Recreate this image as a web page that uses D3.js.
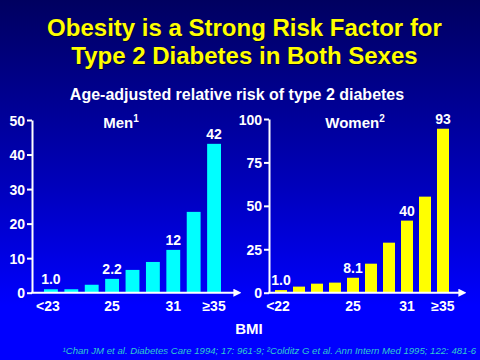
<!DOCTYPE html>
<html><head><meta charset="utf-8">
<script src="https://cdn.jsdelivr.net/npm/d3@7"></script>
<style>body{margin:0;background:#0000ff}svg{display:block}</style>
</head><body>
<script>
const menCategories = ["<23","23-23.9","24-24.9","25-26.9","27-28.9","29-30.9","31-32.9","33-34.9","≥35"];
const menValues = [1.0, 1.0, 2.3, 4.0, 6.6, 8.9, 12.4, 23.4, 43.1];
const menValueLabels = ["1.0","","","2.2","","","12","","42"];
const menTickLabels = ["<23","","","25","","","31","","≥35"];
const menYTicks = [0,10,20,30,40,50];

const womenCategories = ["<22","22-22.9","23-23.9","24-24.9","25-26.9","27-28.9","29-30.9","31-32.9","33-34.9","≥35"];
const womenValues = [1.5, 3.5, 5.2, 5.8, 8.6, 16.7, 28.8, 41.5, 55.3, 94.4];
const womenValueLabels = ["1.0","","","","8.1","","","40","","93"];
const womenTickLabels = ["<22","","","","25","","","31","","≥35"];
const womenYTicks = [0,25,50,75,100];

const W = 480, H = 360;
const font = "Liberation Sans, Arial, Helvetica, sans-serif";
const svg = d3.select("body").append("svg").attr("width", W).attr("height", H);
const defs = svg.append("defs");
const grad = defs.append("linearGradient").attr("id","bg").attr("x1",0).attr("y1",0).attr("x2",0).attr("y2",1);
grad.append("stop").attr("offset","0%").attr("stop-color","#000060");
grad.append("stop").attr("offset","50%").attr("stop-color","#0000b8");
grad.append("stop").attr("offset","85%").attr("stop-color","#0000ff");
grad.append("stop").attr("offset","100%").attr("stop-color","#0000ff");
const mk = defs.append("marker").attr("id","arrow").attr("viewBox","0 0 10 10").attr("refX",2).attr("refY",5)
  .attr("markerWidth",4).attr("markerHeight",4).attr("orient","auto");
mk.append("path").attr("d","M0,0L10,5L0,10z").attr("fill","#fff");

svg.append("rect").attr("width",W).attr("height",H).attr("fill","url(#bg)");

// Title
const title = svg.append("g").attr("font-family",font).attr("font-weight","bold").attr("font-size",24).attr("text-anchor","middle");
[["Obesity is a Strong Risk Factor for",36],["Type 2 Diabetes in Both Sexes",64]].forEach(([t,y])=>{
  title.append("text").attr("x",245.5).attr("y",y+1).attr("fill","#000030").text(t);
  title.append("text").attr("x",244.5).attr("y",y).attr("fill","#ffff00").text(t);
});
svg.append("text").attr("x",237).attr("y",100).attr("text-anchor","middle").attr("font-family",font)
  .attr("font-weight","bold").attr("font-size",16).attr("fill","#fff").text("Age-adjusted relative risk of type 2 diabetes");

function panel(cfg){
  const g = svg.append("g").attr("font-family",font).attr("font-weight","bold");
  const y = d3.scaleLinear().domain([0, cfg.ymax]).range([292.7, cfg.ytop]);
  const x = d3.scaleBand().domain(cfg.cats).range(cfg.xr).paddingInner(cfg.pad).paddingOuter(0);
  g.selectAll("rect.bar").data(cfg.vals).join("rect").attr("class","bar")
    .attr("x",(d,i)=>x(cfg.cats[i])).attr("width",x.bandwidth())
    .attr("y",d=>y(d)).attr("height",d=>y(0)-y(d)).attr("fill",cfg.color);
  // y axis
  const ya = g.append("g").attr("transform",`translate(${cfg.ax},0)`)
    .call(d3.axisLeft(y).tickValues(cfg.yt).tickSize(5).tickPadding(2).tickSizeOuter(0));
  ya.select(".domain").attr("stroke","#fff").attr("stroke-width",2);
  ya.selectAll(".tick line").attr("stroke","#fff").attr("stroke-width",2);
  ya.selectAll(".tick text").attr("fill","#fff").attr("font-size",14).attr("font-family",font).attr("font-weight","bold").attr("dy","0.36em");
  // x axis
  g.append("line").attr("x1",cfg.ax-1).attr("x2",cfg.xend-5).attr("y1",y(0)).attr("y2",y(0))
    .attr("stroke","#fff").attr("stroke-width",2).attr("marker-end","url(#arrow)");
  // x labels
  g.selectAll("text.xl").data(cfg.tl).join("text").attr("class","xl")
    .attr("x",(d,i)=>x(cfg.cats[i])+x.bandwidth()/2 + (i===0?-3:0)).attr("y",311)
    .attr("text-anchor","middle").attr("font-size",14).attr("fill","#fff").text(d=>d);
  // value labels
  g.selectAll("text.vl").data(cfg.vl).join("text").attr("class","vl")
    .attr("x",(d,i)=>x(cfg.cats[i])+x.bandwidth()/2).attr("y",(d,i)=>y(cfg.vals[i])-5)
    .attr("text-anchor","middle").attr("font-size",14).attr("fill","#fff").text(d=>d);
  // panel title
  const t = g.append("text").attr("x",cfg.tx).attr("y",128).attr("text-anchor","middle").attr("font-size",15).attr("fill","#fff");
  t.append("tspan").text(cfg.title);
  t.append("tspan").attr("font-size",10).attr("dy",-6).text(cfg.sup);
}

panel({cats:menCategories, vals:menValues, vl:menValueLabels, tl:menTickLabels, yt:menYTicks,
  ymax:50, ytop:120, xr:[44,221], pad:0.32, ax:32, xend:240, color:"#00ffff", title:"Men", sup:"1", tx:121});
panel({cats:womenCategories, vals:womenValues, vl:womenValueLabels, tl:womenTickLabels, yt:womenYTicks,
  ymax:100, ytop:119, xr:[275,449], pad:1/3, ax:269, xend:465, color:"#ffff00", title:"Women", sup:"2", tx:355});

svg.append("text").attr("x",249).attr("y",334).attr("text-anchor","middle").attr("font-family",font)
  .attr("font-weight","bold").attr("font-size",15).attr("fill","#fff").text("BMI");
svg.append("text").attr("x",476).attr("y",354).attr("text-anchor","end").attr("font-family",font)
  .attr("font-style","italic").attr("font-size",9.6).attr("fill","#33cccc")
  .text("¹Chan JM et al. Diabetes Care 1994;  17: 961-9; ²Colditz G et al. Ann Intern Med 1995; 122: 481-6");
</script>
</body></html>
